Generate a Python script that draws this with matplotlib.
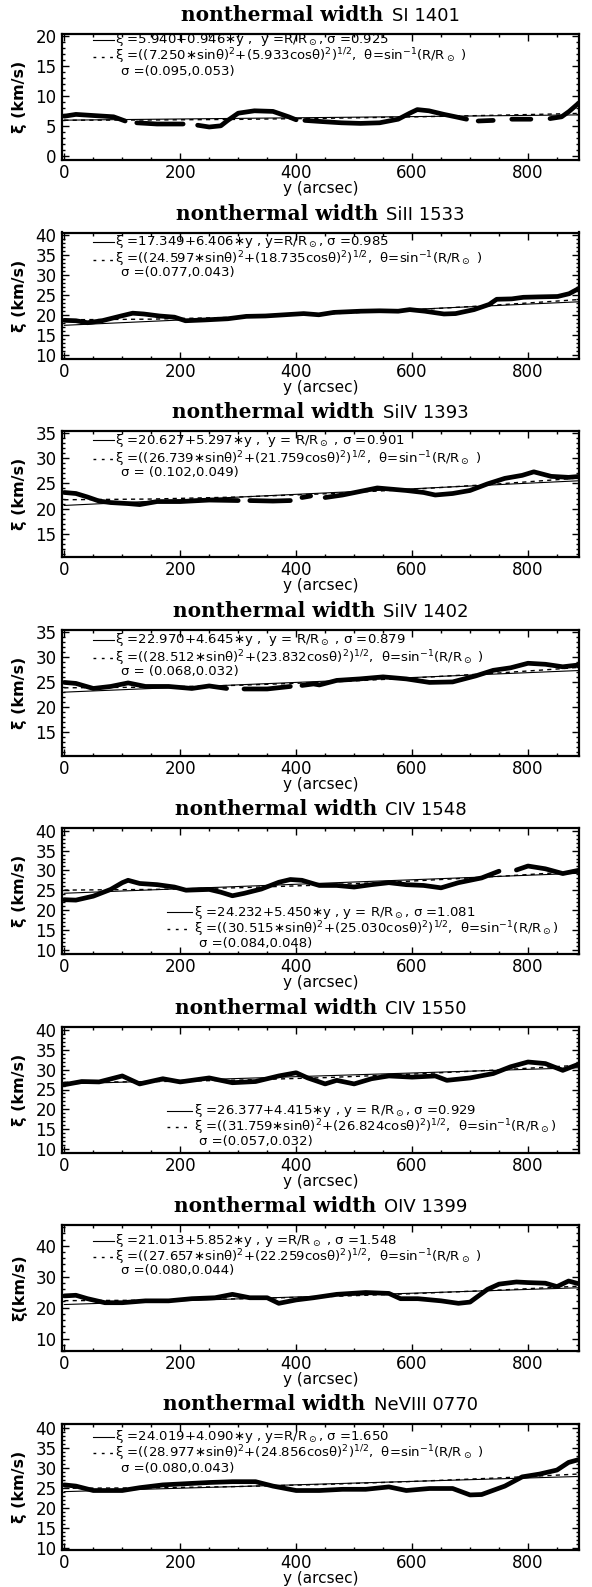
import numpy as np
import matplotlib.pyplot as plt
from matplotlib.ticker import MultipleLocator

plt.rcParams['font.family'] = ['DejaVu Sans']
plt.rcParams['mathtext.fontset'] = 'dejavusans'

nan = np.nan

# panel titles / axes
ions = ["SI 1401", "SiII 1533", "SiIV 1393", "SiIV 1402",
        "CIV 1548", "CIV 1550", "OIV 1399", "NeVIII 0770"]
ylims = [(-0.7, 20.3), (9.0, 40.7), (10.4, 35.4), (10.4, 35.4),
         (8.9, 40.7), (9.2, 40.8), (6.0, 46.7), (9.6, 41.0)]
ymajor = [5, 5, 5, 5, 5, 5, 10, 5]
yminor = [1, 1, 1, 1, 1, 1, 2, 1]
ylabels = ["ξ (km/s)"] * 6 + ["ξ(km/s)", "ξ (km/s)"]

# measured nonthermal width (thick curves), nan = gap in the data
x1 = [0, 20, 52, 85, 105, 112, 125, 160, 190, 205, 215, 230, 250, 270, 282, 300, 328, 360, 387, 400, 408,
      415, 445, 478, 511, 544, 576, 596, 609, 629, 655, 675, 694, 705, 714, 740, 760, 772, 805, 820, 838,
      858, 871, 890]
v1 = [6.6, 6.9, 6.7, 6.5, 5.8, nan, 5.5, 5.3, 5.3, 5.3, nan, 5.1, 4.8, 5.0, 5.9, 7.1, 7.5, 7.4, 6.5, 6.0, nan,
      5.9, 5.7, 5.5, 5.4, 5.5, 6.1, 7.1, 7.7, 7.5, 6.9, 6.5, 6.1, nan, 5.8, 5.9, nan, 6.1, 6.1, nan, 6.2,
      6.5, 7.4, 9.0]

x2 = [0, 20, 40, 65, 98, 118, 137, 164, 190, 209, 242, 282, 314, 347, 380, 413, 439, 465, 511, 544, 576,
      596, 622, 655, 675, 707, 733, 746, 772, 792, 818, 851, 871, 890]
v2 = [18.6, 18.5, 18.0, 18.5, 19.7, 20.4, 20.2, 19.7, 19.4, 18.5, 18.7, 19.0, 19.6, 19.7, 20.0, 20.3, 20.0,
      20.6, 20.9, 21.0, 20.9, 21.3, 20.9, 20.2, 20.3, 21.3, 22.6, 23.9, 24.0, 24.4, 24.5, 24.6, 25.3, 26.8]

x3 = [0, 20, 40, 60, 80, 110, 130, 160, 200, 250, 300, 312, 320, 360, 390, 400, 410, 425, 433, 450, 480,
      510, 540, 560, 590, 620, 640, 670, 700, 730, 760, 790, 810, 840, 870, 890]
v3 = [23.2, 23.0, 22.3, 21.5, 21.2, 21.0, 20.8, 21.4, 21.4, 21.7, 21.6, nan, 21.6, 21.5, 21.6, nan, 22.2,
      22.5, nan, 22.2, 22.7, 23.4, 24.1, 23.9, 23.6, 23.2, 22.7, 23.0, 23.6, 24.9, 26.0, 26.6, 27.3, 26.4,
      26.2, 26.4]

x4 = [0, 20, 50, 80, 110, 140, 180, 220, 250, 280, 300, 310, 320, 350, 390, 400, 410, 430, 440, 470, 510,
      550, 590, 630, 670, 710, 740, 770, 800, 830, 860, 890]
v4 = [24.9, 24.7, 23.7, 24.1, 24.8, 24.1, 24.1, 23.7, 24.2, 23.7, nan, 23.6, 23.6, 23.6, 24.1, nan, 24.3,
      24.6, 24.4, 25.3, 25.6, 26.0, 25.6, 24.9, 25.0, 26.2, 27.3, 27.8, 28.7, 28.5, 28.0, 28.4]

x5 = [0, 20, 50, 80, 100, 110, 130, 160, 190, 210, 250, 270, 290, 310, 340, 370, 390, 410, 440, 470, 500,
      530, 560, 590, 620, 650, 680, 720, 750, 765, 780, 800, 830, 860, 880, 890]
v5 = [22.6, 22.5, 23.5, 25.2, 26.9, 27.5, 26.7, 26.4, 25.8, 25.0, 25.2, 24.5, 23.6, 24.2, 25.3, 27.0, 27.7,
      27.5, 26.2, 26.2, 25.8, 26.4, 26.9, 26.4, 26.2, 25.6, 26.9, 28.1, 29.8, nan, 30.1, 31.1, 30.4, 29.2,
      29.8, 30.1]

x6 = [0, 30, 60, 100, 130, 170, 200, 250, 290, 330, 370, 400, 420, 450, 470, 500, 530, 560, 600, 640, 660,
      700, 740, 770, 800, 830, 860, 890]
v6 = [26.2, 27.0, 26.9, 28.4, 26.4, 27.7, 26.9, 27.9, 26.7, 27.0, 28.4, 29.2, 27.9, 26.4, 27.3, 26.4, 27.7,
      28.4, 28.1, 28.4, 27.3, 27.9, 29.0, 30.7, 31.9, 31.5, 29.8, 31.5]

x7 = [0, 20, 40, 70, 100, 140, 180, 220, 260, 290, 320, 350, 370, 400, 430, 470, 520, 560, 580, 610, 650,
      680, 700, 730, 750, 780, 800, 830, 850, 870, 890]
v7 = [23.8, 24.0, 22.9, 21.6, 21.6, 22.2, 22.2, 22.9, 23.2, 24.3, 23.2, 23.2, 21.4, 22.5, 23.2, 24.3, 24.9,
      24.6, 22.9, 22.9, 22.2, 21.4, 21.8, 25.9, 27.6, 28.3, 28.1, 27.9, 26.8, 28.6, 27.6]

x8 = [0, 20, 50, 100, 130, 170, 210, 250, 290, 330, 360, 400, 440, 480, 520, 560, 590, 630, 670, 700, 720,
      760, 790, 820, 850, 870, 890]
v8 = [25.7, 25.4, 24.3, 24.3, 25.0, 25.7, 26.0, 26.3, 26.5, 26.5, 25.4, 24.3, 24.3, 24.6, 24.6, 25.2, 24.3,
      24.8, 24.8, 23.2, 23.3, 25.4, 27.7, 28.4, 29.4, 31.3, 32.1]

data_x = [x1, x2, x3, x4, x5, x6, x7, x8]
data_v = [v1, v2, v3, v4, v5, v6, v7, v8]

# linear fit (solid), value at y=0 and y=900 arcsec
lin_x = [0, 900]
lin_v = [[5.94, 6.83], [17.35, 23.35], [20.63, 25.59], [22.97, 27.32],
         [24.23, 29.34], [26.38, 30.52], [21.01, 26.50], [24.02, 27.85]]

# sin/cos fit (dashed)
fit_x = [0, 150, 300, 450, 600, 750, 850, 900]
fit_v = [[5.93, 5.97, 6.07, 6.25, 6.48, 6.77, 6.98, 7.10],
         [18.74, 18.90, 19.39, 20.17, 21.22, 22.49, 23.45, 23.96],
         [21.76, 21.90, 22.30, 22.94, 23.83, 24.91, 25.74, 26.19],
         [23.83, 23.96, 24.33, 24.93, 25.77, 26.78, 27.56, 27.99],
         [25.03, 25.19, 25.62, 26.33, 27.31, 28.49, 29.41, 29.90],
         [26.82, 26.96, 27.35, 27.98, 28.86, 29.92, 30.75, 31.20],
         [22.26, 22.41, 22.85, 23.55, 24.52, 25.68, 26.58, 27.06],
         [24.86, 24.97, 25.29, 25.82, 26.55, 27.44, 28.13, 28.51]]

sun = r"R/R$_\odot$"
leg1 = ["ξ =5.940+0.946∗y ,  y =" + sun + ", σ =0.925",
        "ξ =17.349+6.406∗y , y=" + sun + ", σ =0.985",
        "ξ =20.627+5.297∗y ,  y = " + sun + " , σ =0.901",
        "ξ =22.970+4.645∗y ,  y = " + sun + " , σ =0.879",
        "ξ =24.232+5.450∗y , y = " + sun + ", σ =1.081",
        "ξ =26.377+4.415∗y , y = " + sun + ", σ =0.929",
        "ξ =21.013+5.852∗y , y =" + sun + " , σ =1.548",
        "ξ =24.019+4.090∗y , y=" + sun + ", σ =1.650"]
leg2_coef = [("7.250", "5.933"), ("24.597", "18.735"), ("26.739", "21.759"), ("28.512", "23.832"),
             ("30.515", "25.030"), ("31.759", "26.824"), ("27.657", "22.259"), ("28.977", "24.856")]
leg3 = ["σ =(0.095,0.053)", "σ =(0.077,0.043)", "σ = (0.102,0.049)", "σ = (0.068,0.032)",
        "σ =(0.084,0.048)", "σ =(0.057,0.032)", "σ =(0.080,0.044)", "σ =(0.080,0.043)"]

# layout
W, H = 592, 1587
fig = plt.figure(figsize=(W / 100, H / 100), dpi=100)
ax_left, ax_w, ax_h = 62, 517, 126
legend_top = [True, True, True, True, False, False, True, True]
leg_y_top = [(0.955, 0.82, 0.705), (0.925, 0.785, 0.68), (0.925, 0.78, 0.67), (0.92, 0.775, 0.67),
             None, None, (0.875, 0.745, 0.635), (0.895, 0.765, 0.645)]
leg_y_bot = (0.33, 0.2, 0.085)
LFS = 9.5
TDY = 13

titles = []
for i in range(8):
    top = 34 + 198.5 * i
    ax = fig.add_axes([ax_left / W, 1 - (top + ax_h) / H, ax_w / W, ax_h / H])

    ax.plot(data_x[i], data_v[i], color='black', lw=3.4, solid_capstyle='round')
    ax.plot(lin_x, lin_v[i], color='black', lw=0.8)
    ax.plot(fit_x, fit_v[i], color='black', lw=1.0, ls=(0, (3, 3)))

    ax.set_xlim(-4, 888)
    ax.set_ylim(*ylims[i])
    ax.xaxis.set_major_locator(MultipleLocator(200))
    ax.xaxis.set_minor_locator(MultipleLocator(50))
    ax.yaxis.set_major_locator(MultipleLocator(ymajor[i]))
    ax.yaxis.set_minor_locator(MultipleLocator(yminor[i]))
    ax.tick_params(which='both', direction='in', top=True, right=True, width=1.0)
    ax.tick_params(which='major', length=5)
    ax.tick_params(which='minor', length=2.5)
    ax.tick_params(axis='x', which='major', pad=3, labelsize=12)
    ax.tick_params(axis='y', which='major', pad=4, labelsize=12)
    for s in ax.spines.values():
        s.set_linewidth(1.6)

    ax.text(-0.082, 0.5, ylabels[i], transform=ax.transAxes, rotation=90,
            ha='center', va='center', fontsize=11.5, fontweight='bold')
    ax.text(0.5, -0.228, "y (arcsec)", transform=ax.transAxes,
            ha='center', va='center', fontsize=11)

    a, b = leg2_coef[i]
    l2 = ("ξ =((" + a + "∗sinθ)$^2$+(" + b + "cosθ)$^2$)$^{1/2}$,  θ=sin$^{-1}$(" + sun +
          (" )" if legend_top[i] else ")"))
    if legend_top[i]:
        ys = leg_y_top[i]
        sx0, sx1, tx, sx = 0.06, 0.10, 0.102, 0.115
    else:
        ys = leg_y_bot
        sx0, sx1, tx, sx = 0.203, 0.251, 0.255, 0.265
    ax.plot([sx0, sx1], [ys[0], ys[0]], color='black', lw=0.8, transform=ax.transAxes)
    ax.plot([sx0, sx1], [ys[1], ys[1]], color='black', lw=1.0, ls=(0, (2, 4)), transform=ax.transAxes)
    ax.text(tx, ys[0], leg1[i], transform=ax.transAxes, fontsize=LFS, va='center', ha='left')
    ax.text(tx, ys[1], l2, transform=ax.transAxes, fontsize=LFS, va='center', ha='left', clip_on=False)
    ax.text(sx, ys[2], leg3[i], transform=ax.transAxes, fontsize=LFS, va='center', ha='left')

    tb = ax.annotate("nonthermal width", xy=(0.5, 1), xycoords='axes fraction',
                     xytext=(0, TDY), textcoords='offset pixels', ha='left', va='baseline',
                     fontsize=14.5, fontweight='bold', family='DejaVu Serif')
    ti = ax.annotate(ions[i], xy=(0.5, 1), xycoords='axes fraction',
                     xytext=(0, TDY), textcoords='offset pixels', ha='left', va='baseline',
                     fontsize=13)
    titles.append((tb, ti))

# center the two-font titles over each panel
fig.canvas.draw()
r = fig.canvas.get_renderer()
gap = 8
for tb, ti in titles:
    wb = tb.get_window_extent(r).width
    wi = ti.get_window_extent(r).width
    left = -(wb + gap + wi) / 2
    tb.xyann = (left, TDY)
    ti.xyann = (left + wb + gap, TDY)

fig.savefig("out.png", dpi=100)
